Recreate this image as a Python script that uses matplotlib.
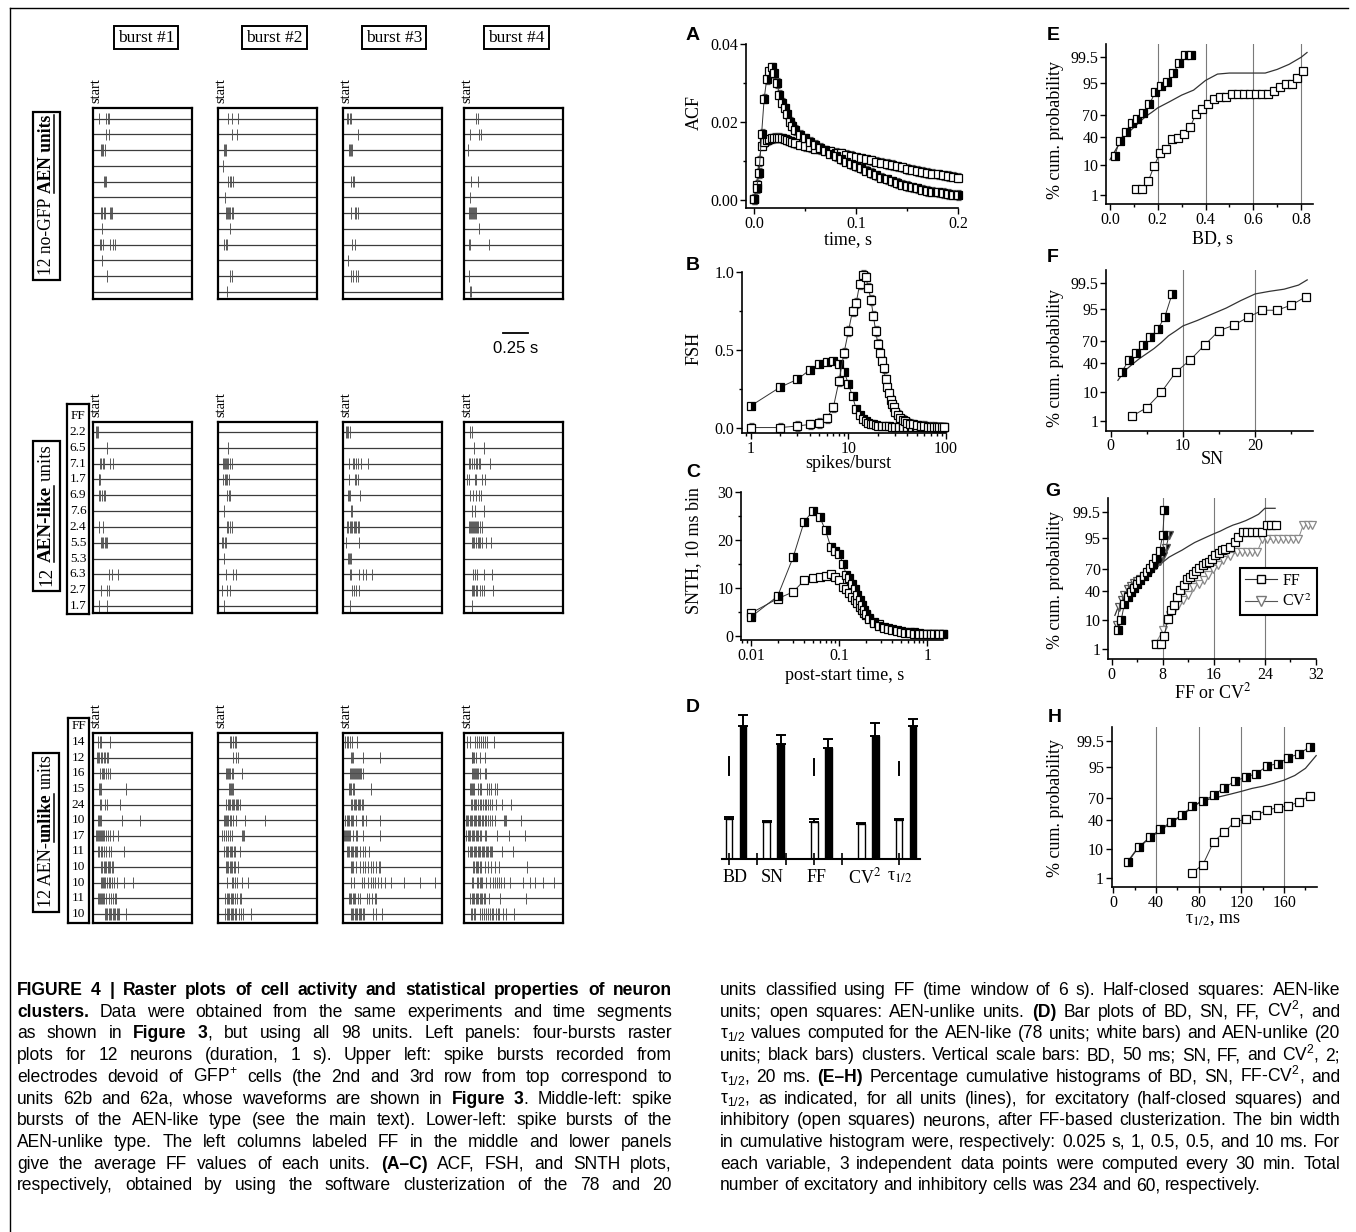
import re
from statistics import NormalDist

import numpy as np
import matplotlib
matplotlib.use('Agg')
import matplotlib.pyplot as plt
from matplotlib.lines import Line2D
from matplotlib.patches import Rectangle
from matplotlib.ticker import NullLocator

W, H = 1356, 1232
SERIF = 'Liberation Serif'
SANS = 'Liberation Sans'
plt.rcParams['font.family'] = SERIF
plt.rcParams['mathtext.fontset'] = 'custom'
plt.rcParams['mathtext.rm'] = SANS
plt.rcParams['mathtext.it'] = SANS + ':italic'
plt.rcParams['mathtext.bf'] = SANS + ':bold'

# ---------------- raster data (spike times, ms after burst start) ----------------
top_b1 = [[57, 135, 152, 165], [131, 158], [77, 91, 104, 118], [], [108, 118, 128], [],
          [81, 94, 108, 125, 168, 178, 192], [91], [67, 84, 98, 172, 199, 226], [94], [145], []]
top_b2 = [[101, 145, 205], [145, 192], [57, 67, 77], [47], [101, 118, 135, 152], [74],
          [84, 94, 104, 114, 125, 138, 155], [121], [64, 77, 94], [], [125, 138], [88]]
top_b3 = [[40, 54, 67, 81], [155], [57, 67, 77, 88], [], [81, 98, 114], [],
          [81, 118, 135, 155], [], [91, 125], [54], [77, 101, 128, 155], []]
top_b4 = [[125, 141], [57, 148, 175], [44], [], [71, 145], [57],
          [47, 57, 67, 77, 88, 98, 111, 125], [148], [54, 64, 249], [], [54], [57, 71]]

mid_b1 = [[30, 40, 50], [142], [71, 85, 98, 112, 173, 207], [58, 64, 71], [58, 75, 92, 108, 125], [],
          [58, 98], [78, 92, 105, 119, 132, 146], [], [166, 190, 251], [78, 139, 159], [64, 142]]
mid_b2 = [[], [102], [51, 61, 71, 81, 92, 105, 122, 146], [54, 68, 81, 95, 115], [95, 108, 122], [64],
          [92, 105, 122, 139], [41, 54, 71, 85], [64], [81, 149, 186], [44, 92, 125], [61]]
mid_b3 = [[27, 41, 54, 68], [], [61, 102, 115, 129, 153, 180, 254], [58, 119, 129, 156], [54, 64, 75, 169],
          [78, 95], [41, 54, 68, 81, 95, 108, 122, 136, 149, 163], [34, 166], [47, 58, 68, 78],
          [68, 85, 163, 203, 237, 292], [95, 112, 129, 163], [75]]
mid_b4 = [[58, 78], [102, 203], [51, 64, 78, 102, 119, 132, 149, 166, 258], [31, 51, 108, 125, 180, 214],
          [64, 92, 125, 153, 173], [85, 112, 197], [51, 64, 74, 85, 95, 105, 115, 125, 136, 146, 159, 186],
          [78, 92, 105, 119, 139, 153, 166, 180, 220, 271], [], [92, 112, 132, 203, 281],
          [78, 92, 105, 119, 132, 166, 186, 207, 295], [81]]

bot_b1 = [[51, 71, 84, 172], [44, 54, 64, 78, 91, 108, 125, 142, 155], [74, 88, 101, 115, 132, 149, 172],
          [64, 74, 81, 334], [68, 84, 125, 142, 270], [54, 64, 74, 84, 294, 473],
          [27, 37, 47, 57, 68, 78, 88, 98, 112, 132, 149, 172, 206, 250],
          [51, 64, 78, 91, 108, 135, 162, 182, 314], [81, 95, 108, 122, 135, 149, 162, 176, 189, 203],
          [78, 88, 98, 108, 125, 142, 159, 176, 193, 216, 240, 311, 399],
          [51, 61, 71, 81, 91, 101, 115, 128, 166, 182, 199, 220, 233],
          [118, 132, 145, 159, 172, 186, 199, 213, 226, 240, 253, 267, 334]]
bot_b2 = [[118, 135, 152, 169, 179], [155, 179, 203], [85, 95, 105, 115, 125, 139, 155, 247],
          [112, 122, 132, 142, 152], [85, 98, 112, 125, 139, 152, 166, 179, 193, 206, 220],
          [64, 74, 85, 95, 105, 118, 135, 152, 186, 270, 473], [44, 57, 85, 101, 118, 145, 240, 254, 267],
          [64, 78, 91, 105, 118, 132, 145, 159, 172, 223], [78, 91, 105, 118, 132, 145, 159, 172, 199],
          [95, 139, 155, 172, 196, 247, 304], [74, 88, 101, 115, 128, 142, 155, 169, 196, 220, 237],
          [74, 88, 101, 115, 128, 142, 155, 169, 183, 210, 237, 254, 338]]
bot_b3 = [[17, 37, 51, 71, 91, 139], [78, 88, 98, 199, 375],
          [71, 81, 91, 101, 112, 122, 132, 142, 152, 162, 172, 183, 199], [64, 74, 85, 98, 112, 281],
          [81, 95, 108, 122, 135, 149, 162, 176, 189, 203], [24, 37, 51, 64, 78, 91, 105, 132, 193, 203, 233, 375],
          [3, 14, 24, 34, 44, 54, 64, 74, 98, 128, 145, 206, 375],
          [37, 51, 64, 78, 91, 105, 118, 132, 145, 172, 199, 226, 267],
          [78, 91, 105, 132, 172, 199, 226, 254, 281, 308, 335, 362, 375],
          [78, 115, 193, 216, 250, 284, 301, 321, 352, 379, 429, 480, 619, 774, 929],
          [64, 74, 85, 98, 112, 125, 149, 172, 240, 267, 294, 321, 335],
          [78, 91, 105, 118, 132, 145, 159, 172, 186, 199, 213, 308, 335, 389]]
bot_b4 = [[30, 57, 112, 132, 152, 172, 193, 213, 233, 301], [78, 85, 91, 105, 125, 166, 210],
          [85, 95, 105, 115, 125, 135, 145, 159, 210, 226],
          [57, 68, 78, 88, 98, 145, 159, 172, 233, 254, 274, 314, 335],
          [71, 85, 98, 112, 125, 142, 159, 176, 193, 210, 226, 243, 260, 281, 328, 382, 470],
          [17, 30, 44, 57, 71, 85, 98, 112, 125, 139, 152, 166, 179, 193, 210, 226, 243, 267, 287, 314,
           402, 416, 429, 571],
          [24, 37, 51, 64, 78, 91, 105, 118, 132, 145, 159, 172, 213, 226, 335, 456, 612],
          [44, 57, 71, 85, 98, 112, 125, 139, 152, 166, 179, 193, 206, 220, 233, 247, 260, 274, 287, 382, 490],
          [91, 105, 118, 132, 145, 159, 176, 210, 243, 277, 311, 355, 632],
          [78, 91, 132, 145, 159, 172, 186, 226, 267, 294, 311, 335, 355, 375, 402, 463, 592, 666, 713, 801, 909],
          [64, 78, 91, 105, 118, 132, 145, 159, 172, 186, 199, 213, 257, 362, 625],
          [71, 85, 98, 112, 159, 179, 199, 220, 240, 260, 281, 294, 328, 341, 355, 395, 429, 504]]

ff_like = ['2.2', '6.5', '7.1', '1.7', '6.9', '7.6', '2.4', '5.5', '5.3', '6.3', '2.7', '1.7']
ff_unlike = ['14', '12', '16', '15', '24', '10', '17', '11', '10', '10', '11', '10']
burst_titles = ['burst #1', 'burst #2', 'burst #3', 'burst #4']

# ---------------- panel A: ACF ----------------
acf_t = np.r_[np.arange(0, 0.0401, 0.0025), np.arange(0.045, 0.2001, 0.005)]
acf_like = [0.0003, 0.003, 0.007, 0.017, 0.026, 0.031, 0.033, 0.034, 0.0325, 0.030, 0.027, 0.025,
            0.0235, 0.022, 0.020, 0.019, 0.018,
            0.0168, 0.0158, 0.015, 0.0142, 0.0134, 0.0127, 0.0119, 0.0112, 0.0105, 0.0099, 0.0093, 0.0088,
            0.0082, 0.0076, 0.007, 0.0064, 0.0058, 0.0053, 0.0048, 0.0044, 0.004, 0.0036,
            0.0033, 0.003, 0.0027, 0.0024, 0.0022, 0.002, 0.0018, 0.0016, 0.0014, 0.0013]
acf_unlike = [0.0003, 0.004, 0.01, 0.014, 0.0148, 0.0153, 0.0156, 0.0158, 0.016, 0.016, 0.016, 0.0158,
              0.0156, 0.0154, 0.0151, 0.0148, 0.0146,
              0.0142, 0.0138, 0.0135, 0.0132, 0.013, 0.0128, 0.0125, 0.0122, 0.012, 0.0117,
              0.0113, 0.011, 0.0107, 0.0105, 0.0102, 0.0099, 0.0096, 0.0093, 0.009, 0.0087,
              0.0084, 0.008, 0.0078, 0.0075, 0.0072, 0.007, 0.0068, 0.0066, 0.0064, 0.0062, 0.006, 0.0058]
ACF_ERR = 0.0012

# ---------------- panel B: FSH ----------------
fsh_like_x = list(range(1, 21)) + [22, 24, 26, 28, 30, 33, 36, 40, 45, 50, 55, 60, 65, 70, 75, 80, 85, 90, 95]
fsh_like = [0.14, 0.26, 0.31, 0.37, 0.41, 0.42, 0.43, 0.41, 0.36, 0.28, 0.2, 0.12, 0.08, 0.055, 0.04,
            0.03, 0.025, 0.02, 0.016, 0.013, 0.01, 0.008, 0.007, 0.006, 0.005, 0.004, 0.004, 0.003,
            0.003, 0.002, 0.002, 0.002, 0.001, 0.001, 0.001, 0.001, 0.001, 0.001, 0.001]
fsh_unlike_x = list(range(1, 31)) + [32, 34, 36, 38, 40, 43, 46, 50, 55, 60, 65, 70, 75, 80, 85, 90, 95]
fsh_unlike = [0.0, 0.0, 0.01, 0.02, 0.03, 0.06, 0.13, 0.3, 0.48, 0.62, 0.75, 0.8, 0.92, 0.98, 0.97,
              0.9, 0.82, 0.72, 0.62, 0.54, 0.48, 0.43, 0.38, 0.31, 0.26, 0.22, 0.18, 0.15, 0.13, 0.1,
              0.08, 0.06, 0.05, 0.04, 0.03, 0.025, 0.02, 0.015, 0.01, 0.01, 0.005, 0.005, 0.003,
              0.002, 0.002, 0.001, 0.001]
FSH_ERR = 0.03

# ---------------- panel C: SNTH ----------------
snth_x = [0.01, 0.02, 0.03, 0.04, 0.05, 0.06, 0.07, 0.08, 0.09, 0.10, 0.11, 0.12, 0.13, 0.14, 0.15,
          0.16, 0.17, 0.18, 0.19, 0.20, 0.22, 0.25, 0.28, 0.32, 0.36, 0.4, 0.45, 0.5, 0.56, 0.63,
          0.7, 0.8, 0.9, 1.0, 1.1, 1.2, 1.35, 1.5]
snth_like = [4.0, 8.3, 16.4, 23.8, 26.0, 24.8, 22.0, 18.6, 17.8, 17.2, 15.1, 12.8, 12.0, 10.8, 9.9,
             8.6, 7.5, 6.4, 5.5, 4.7, 3.6, 2.8, 2.2, 1.8, 1.5, 1.3, 1.0, 0.9, 0.7, 0.6,
             0.5, 0.5, 0.4, 0.4, 0.4, 0.4, 0.4, 0.4]
snth_unlike = [4.8, 7.8, 9.2, 11.6, 12.0, 12.3, 12.5, 13.0, 12.3, 11.6, 10.3, 9.9, 9.0, 8.2, 7.5,
               6.8, 6.0, 5.4, 4.9, 4.4, 3.8, 3.0, 2.5, 2.0, 1.7, 1.5, 1.2, 1.1, 0.9, 0.8,
               0.8, 0.6, 0.5, 0.5, 0.4, 0.4, 0.4, 0.4]

# ---------------- panel D: bars ----------------
d_labels = ['BD', 'SN', 'FF', 'CV$^2$', 'τ$_{1/2}$']
d_like = [109, 4.7, 4.7, 4.4, 62]
d_like_err = [7, 0.2, 0.34, 0.2, 1.6]
d_unlike = [363, 14.6, 14.1, 15.7, 209]
d_unlike_err = [30, 1.15, 1.15, 1.57, 12]
d_scale = [50, 2, 2, 2, 20]          # vertical scale bar value for each variable
D_SCALE_LEN = [18.3, 15.7, 15.7, 15.7, 12.7]
D_SCALE_AT = [0, 2, 4]
D_POS = [0, 0.80, 1.81, 2.81, 3.61]
D_LABEL_POS = [-0.03, 0.76, 1.72, 2.74, 3.48]
D_TICKS = [-0.155, 0.44, 1.06, 1.65, 2.25, 3.46]

# ---------------- panels E-H: cumulative probability (%) ----------------
e_like_x = [0.02, 0.04, 0.065, 0.09, 0.115, 0.14, 0.165, 0.19, 0.215, 0.24, 0.265, 0.29, 0.315, 0.34]
e_like = [17.5, 34, 46.5, 59, 65, 72.6, 81.6, 91, 94, 95.6, 97.8, 99.1, 99.6, 99.6]
e_unlike_x = [0.11, 0.135, 0.16, 0.185, 0.21, 0.235, 0.26, 0.285, 0.31, 0.335, 0.36, 0.385, 0.41, 0.435,
              0.46, 0.485, 0.51, 0.535, 0.56, 0.585, 0.61, 0.635, 0.66, 0.685, 0.71, 0.735, 0.76, 0.785, 0.81]
e_unlike = [1.65, 1.65, 3.2, 9.8, 19.9, 24.4, 36.4, 38.6, 43.3, 53, 71, 76.5, 81.6, 86.4, 87.9, 87.9,
            89.8, 89.8, 89.8, 89.8, 89.8, 89.8, 89.8, 91.6, 93.3, 94.8, 94.8, 96.6, 98.2]
e_all_x = [0.0, 0.025, 0.05, 0.075, 0.1, 0.125, 0.15, 0.175, 0.2, 0.25, 0.3, 0.35, 0.4, 0.45, 0.5,
           0.55, 0.6, 0.65, 0.7, 0.75, 0.8, 0.825]
e_all = [14, 24, 36, 45, 53, 61, 68, 73, 78, 84, 89, 92, 96, 97.6, 97.8, 97.8, 97.8, 97.8, 98.4, 99.0,
         99.5, 99.7]

f_like_x = [1.5, 2.5, 3.5, 4.5, 5.5, 6.5, 7.5, 8.5]
f_like = [27.7, 43.8, 54, 64.7, 74.3, 82.6, 91.7, 98.6]
f_unlike_x = [3, 5, 7, 9, 11, 13, 15, 17, 19, 21, 23, 25, 27]
f_unlike = [1.6, 3.2, 9.6, 27.7, 43.8, 64.7, 81.3, 86, 91.4, 94.7, 94.7, 96.4, 98.2]
f_all_x = [1, 2, 3, 4, 5, 6, 7, 8, 9, 10, 12, 14, 16, 18, 20, 22, 24, 26, 27.2]
f_all = [19, 30, 38, 46, 53, 60, 68, 76, 81, 85.5, 89.5, 93, 95.5, 97.5, 98.6, 98.9, 99.1, 99.4, 99.65]

g_like_ff_x = [1.0, 1.5, 2.0, 2.5, 3.0, 3.5, 4.0, 4.5, 5.0, 5.5, 6.0, 6.5, 7.0, 7.5, 8.0, 8.25]
g_like_ff = [5, 10, 24, 32, 38, 44, 50, 56, 61, 66, 71, 76, 82, 88, 96, 99.6]
g_like_cv_x = [0.8, 1.2, 1.6, 2.0, 2.5, 3.0, 3.5, 4.0, 4.5, 5.0, 5.5, 6.0, 6.5, 7.0, 7.5, 8.0, 8.5, 9.0]
g_like_cv = [7, 20, 28, 35, 42, 47, 51, 54, 57, 61, 64, 67, 71, 75, 79, 84, 90, 96]
g_unlike_ff_x = [7.0, 7.75, 8.25, 8.75, 9.25, 9.75, 10.25, 10.75, 11.25, 11.75, 12.25, 12.75, 13.25,
                 13.75, 14.25, 14.75, 15.25, 15.75, 16.25, 16.75, 17.25, 17.75, 18.5, 19.25, 19.75,
                 20.5, 21.25, 22, 22.75, 23.5, 24.25, 25, 25.75]
g_unlike_ff = [1.6, 1.6, 3.1, 10.3, 17.5, 22.5, 31.6, 41, 48.8, 56.5, 59.3, 63.7, 67.7, 71.4, 75, 76.9,
               78.2, 81, 84.8, 86.7, 88.5, 89.2, 90.8, 93.4, 95.4, 96.7, 96.7, 96.7, 96.7, 96.7,
               98.2, 98.2, 98.2]
g_unlike_cv_x = [6.8, 8.1, 8.6, 9.1, 9.7, 10.4, 11.2, 12, 12.8, 13.6, 14.4, 15.1, 15.9, 16.7, 17.5,
                 18.5, 19.6, 20.4, 21.2, 22, 22.8, 23.6, 24.4, 25.2, 26, 26.8, 27.6, 28.4, 29.2,
                 30, 30.8, 31.4]
g_unlike_cv = [1.6, 5, 10, 13.6, 17.5, 22.5, 28, 34, 45, 50, 56, 63, 70, 75, 80, 84, 87,
               87.5, 87.5, 87.5, 87.5, 94.4, 94.4, 94.4, 94.4, 94.4, 94.4, 94.4, 94.4, 98.2, 98.2, 98.2]
g_all_x = [0.5, 1, 2, 3, 4, 5, 6, 7, 8, 9, 10, 11, 12, 13, 14, 15, 16, 17, 18, 19, 20, 21, 22, 23, 24, 25.6]
g_all = [13, 20, 35, 48, 56, 62, 67, 72, 78, 83, 86, 88.5, 91, 93, 94.3, 95.4, 96.3, 97, 97.7, 98.2,
         98.5, 98.8, 99.1, 99.35, 99.65, 99.65]

h_like_x = [14, 24, 34, 44, 54, 64, 74, 84, 94, 104, 114, 124, 134, 144, 154, 164, 174, 184]
h_like = [4, 11.2, 19, 27.6, 37.4, 46.7, 59.5, 66.6, 73.7, 81.8, 87.2, 90.1, 92, 95.4, 96.1, 97.6, 98.3, 99.1]
h_unlike_x = [74, 84, 94, 104, 114, 124, 134, 144, 154, 164, 174, 184]
h_unlike = [1.6, 3.2, 15, 24.7, 37.4, 41, 46.7, 53.8, 57.5, 59.8, 65.4, 72.9]
h_all_x = [11, 20, 30, 40, 50, 60, 70, 80, 90, 100, 110, 120, 130, 140, 150, 160, 170, 180, 190]
h_all = [3, 8, 15, 23, 32, 42, 53, 64, 69, 72, 75, 78, 81, 83, 85.5, 88, 91, 94.5, 98]

PROB_TICKS = [1, 10, 40, 70, 95, 99.5]
PROB_LABELS = ['1', '10', '40', '70', '95', '99.5']

# ---------------- caption ----------------
left_lines = [
    "**FIGURE 4 | Raster plots of cell activity and statistical properties of neuron**",
    "**clusters.** Data were obtained from the same experiments and time segments",
    "as shown in **Figure 3**, but using all 98 units. Left panels: four-bursts raster",
    "plots for 12 neurons (duration, 1 s). Upper left: spike bursts recorded from",
    "electrodes devoid of GFP$^{+}$ cells (the 2nd and 3rd row from top correspond to",
    "units 62b and 62a, whose waveforms are shown in **Figure 3**. Middle-left: spike",
    "bursts of the AEN-like type (see the main text). Lower-left: spike bursts of the",
    "AEN-unlike type. The left columns labeled FF in the middle and lower panels",
    "give the average FF values of each units. **(A–C)** ACF, FSH, and SNTH plots,",
    "respectively, obtained by using the software clusterization of the 78 and 20",
]
right_lines = [
    "units classified using FF (time window of 6 s). Half-closed squares: AEN-like",
    "units; open squares: AEN-unlike units. **(D)** Bar plots of BD, SN, FF, CV$^{2}$, and",
    "τ$_{1/2}$ values computed for the AEN-like (78 units; white bars) and AEN-unlike (20",
    "units; black bars) clusters. Vertical scale bars: BD, 50 ms; SN, FF, and CV$^{2}$, 2;",
    "τ$_{1/2}$, 20 ms. **(E–H)** Percentage cumulative histograms of BD, SN, FF-CV$^{2}$, and",
    "τ$_{1/2}$, as indicated, for all units (lines), for excitatory (half-closed squares) and",
    "inhibitory (open squares) neurons, after FF-based clusterization. The bin width",
    "in cumulative histogram were, respectively: 0.025 s, 1, 0.5, 0.5, and 10 ms. For",
    "each variable, 3 independent data points were computed every 30 min. Total",
    "number of excitatory and inhibitory cells was 234 and 60, respectively.",
]

fig = plt.figure(figsize=(W / 100, H / 100), dpi=100)
R = fig.canvas.get_renderer()


def fx(x):
    return x / W


def fy(y):
    return 1 - y / H


def px_axes(l, t, r, b):
    return fig.add_axes([l / W, 1 - b / H, (r - l) / W, (b - t) / H])


def text_w(s, size, bold=False, family=SERIF):
    t = fig.text(0, 0, s, fontsize=size, fontweight='bold' if bold else 'normal', family=family)
    w = t.get_window_extent(R).width
    t.remove()
    return w


def rect_px(l, t, r, b, lw=1.6):
    fig.add_artist(Rectangle((fx(l), fy(b)), (r - l) / W, (b - t) / H, transform=fig.transFigure,
                             fill=False, lw=lw, ec='black'))


def rot_label(xb, ybot, parts, target):
    # vertical label built from pieces (text, bold, space before); bold pieces underlined
    def layout(size):
        space = text_w('a a', size) - text_w('aa', size)
        y, arts = ybot, []
        for i, (txt, bold, gap) in enumerate(parts):
            if i > 0 and gap:
                y -= space
            t = fig.text(fx(xb), fy(y), txt, rotation=90, rotation_mode='anchor', ha='left',
                         va='baseline', fontsize=size, fontweight='bold' if bold else 'normal')
            h = t.get_window_extent(R).height
            arts.append(t)
            if bold:
                ln = Line2D([fx(xb + 2.5)] * 2, [fy(y), fy(y - h)], color='black', lw=1.1)
                fig.add_artist(ln)
                arts.append(ln)
            y -= h
        return ybot - y, arts

    length, arts = layout(13)
    for a in arts:
        a.remove()
    layout(13 * target / length)


# ---------------- raster panels ----------------
RASTER_X = [(93, 192), (218, 317), (343, 442), (464, 563)]
groups = [
    dict(box=(108, 299), row0=118.7, step=15.73, spikes=[top_b1, top_b2, top_b3, top_b4], ff=None,
         ffbox=None, lbox=(33, 60, 112, 280),
         label=[('12 no-GFP', False, True), ('AEN units', True, True)], llen=160),
    dict(box=(422, 613), row0=432, step=15.82, spikes=[mid_b1, mid_b2, mid_b3, mid_b4], ff=ff_like,
         ffbox=(67, 404, 89, 614), lbox=(33, 60, 441, 591),
         label=[('12', False, True), ('AEN-like', True, True), ('units', False, True)], llen=141),
    dict(box=(733, 923), row0=742, step=15.64, spikes=[bot_b1, bot_b2, bot_b3, bot_b4], ff=ff_unlike,
         ffbox=(68, 718, 89, 923), lbox=(33, 59, 753, 912),
         label=[('12 AEN-', False, True), ('unlike', True, False), ('units', False, True)], llen=153),
]

for gi, g in enumerate(groups):
    top, bot = g['box']
    ylim = ((bot - g['row0']) / g['step'], (top - g['row0']) / g['step'])
    for bi, (x0, x1) in enumerate(RASTER_X):
        ax = px_axes(x0, top, x1, bot)
        ax.hlines(range(12), 0, 1000, color='#3c3c3c', lw=0.9)
        for k, row in enumerate(g['spikes'][bi]):
            ax.vlines(row, k - 0.36, k + 0.36, color='#505050', lw=0.65)
        ax.set_xlim(0, 1000)
        ax.set_ylim(*ylim)
        ax.set_xticks([])
        ax.set_yticks([])
        for s in ax.spines.values():
            s.set_linewidth(1.6)
        fig.text(fx(x0 + 6.5), fy(top - 5), 'start', rotation=90, rotation_mode='anchor',
                 ha='left', va='baseline', fontsize=10.5)
        if gi == 0 and bi == 3:
            ax.plot([394, 644], [13.62, 13.62], color='black', lw=1.3, clip_on=False)
            ax.text(519, 14.6, '0.25 s', family=SANS, fontsize=12, ha='center', va='center')
    if g['ff'] is not None:
        l, t, r, b = g['ffbox']
        fa = px_axes(l, t, r, b)
        fa.set_ylim((b - g['row0']) / g['step'], (t - g['row0']) / g['step'])
        fa.set_xticks([])
        fa.set_yticks([])
        for s in fa.spines.values():
            s.set_linewidth(1.6)
        tr = fa.get_yaxis_transform()
        fa.text(0.5, -1, 'FF', transform=tr, ha='center', va='center', fontsize=9.5)
        for k, v in enumerate(g['ff']):
            fa.text(0.5, k, v, transform=tr, ha='center', va='center', fontsize=9.5)
    l, r, t, b = g['lbox']
    rect_px(l, t, r, b)
    rot_label(51, b - 5, g['label'], g['llen'])

for title, cx in zip(burst_titles, [146, 274.5, 394, 516.5]):
    fig.text(fx(cx), fy(37.5), title, ha='center', va='center', fontsize=12.5,
             bbox=dict(boxstyle='square,pad=0.22', fc='white', ec='black', lw=1.4))

# ---------------- common styles for A-H ----------------
HALF = dict(marker='s', fillstyle='right', mfc='black', mfcalt='white', mec='black', mew=0.9)
OPEN = dict(marker='s', mfc='white', mec='black', mew=0.9)


def style_ax(ax):
    for s in ('top', 'right'):
        ax.spines[s].set_visible(False)
    for s in ('left', 'bottom'):
        ax.spines[s].set_linewidth(1.2)
    ax.tick_params(which='both', direction='out', labelsize=11.5, width=1.0, pad=1.5)
    ax.tick_params(which='major', length=4)
    ax.tick_params(which='minor', length=2.5)
    ax.patch.set_alpha(0)
    for lab in ax.get_xticklabels() + ax.get_yticklabels():
        lab.set_family(SERIF)


def flabel(x, y, s, rot=0, size=13):
    t = fig.text(fx(x), fy(y), s, rotation=rot, ha='center', va='center', fontsize=size)
    t.set_math_fontfamily('stix')
    return t


# A
ax = px_axes(746, 44, 958, 208)
ax.errorbar(acf_t, acf_unlike, yerr=ACF_ERR, color='#333', lw=0.7, ms=5.8, capsize=1.8,
            elinewidth=0.5, ecolor='#555', clip_on=False, **OPEN)
ax.errorbar(acf_t, acf_like, yerr=ACF_ERR, color='#333', lw=0.7, ms=5.8, capsize=1.8,
            elinewidth=0.5, ecolor='#555', clip_on=False, **HALF)
ax.set_xlim(-0.0078, 0.2)
ax.set_ylim(-0.002, 0.04)
ax.set_xticks([0, 0.1, 0.2], ['0.0', '0.1', '0.2'])
ax.set_xticks([0.05, 0.15], minor=True)
ax.set_yticks([0, 0.02, 0.04], ['0.00', '0.02', '0.04'])
ax.set_yticks([0.01, 0.03], minor=True)
style_ax(ax)
flabel(694, 112, 'ACF', 90)
flabel(848, 240, 'time, s')

# B
ax = px_axes(742, 272, 946, 433)
ax.set_xscale('log')
ax.errorbar(fsh_unlike_x, fsh_unlike, yerr=FSH_ERR, color='#333', lw=0.7, ms=6.3, capsize=1.8,
            elinewidth=0.5, ecolor='#555', clip_on=False, **OPEN)
ax.plot(fsh_like_x, fsh_like, color='#333', lw=0.7, ms=6.3, clip_on=False, **HALF)
ax.set_xlim(0.81, 98)
ax.set_ylim(-0.035, 1.0)
ax.set_xticks([1, 10, 100], ['1', '10', '100'])
ax.set_yticks([0, 0.5, 1.0], ['0.0', '0.5', '1.0'])
ax.set_yticks([0.25, 0.75], minor=True)
style_ax(ax)
flabel(694, 348, 'FSH', 90)
flabel(848, 463, 'spikes/burst')

# C
ax = px_axes(741, 492, 943, 640)
ax.set_xscale('log')
ax.plot(snth_x, snth_unlike, color='#333', lw=0.7, ms=5.8, clip_on=False, **OPEN)
ax.plot(snth_x, snth_like, color='#333', lw=0.7, ms=5.8, clip_on=False, **HALF)
ax.set_xlim(0.0077, 1.5)
ax.set_ylim(-0.8, 30)
ax.set_xticks([0.01, 0.1, 1], ['0.01', '0.1', '1'])
ax.set_yticks([0, 10, 20, 30], ['0', '10', '20', '30'])
ax.set_yticks([5, 15, 25], minor=True)
style_ax(ax)
flabel(694, 551, 'SNTH, 10 ms bin', 90)
flabel(845, 675, 'post-start time, s')

# D
ax = px_axes(722, 709, 920, 859)
ax.patch.set_alpha(0)
gain = [ln / s for ln, s in zip(D_SCALE_LEN, d_scale)]
pos = np.array(D_POS)
ax.bar(pos - 0.149, [v * g for v, g in zip(d_like, gain)], width=0.14, color='white',
       edgecolor='black', lw=1.0,
       yerr=[np.zeros(5), [e * g for e, g in zip(d_like_err, gain)]],
       error_kw=dict(capsize=3.5, elinewidth=1.4, capthick=1.4, ecolor='black'))
ax.bar(pos + 0.149, [v * g for v, g in zip(d_unlike, gain)], width=0.14, color='black',
       edgecolor='black', lw=1.0,
       yerr=[np.zeros(5), [e * g for e, g in zip(d_unlike_err, gain)]],
       error_kw=dict(capsize=3.5, elinewidth=1.4, capthick=1.4, ecolor='black'))
for i in D_SCALE_AT:
    ax.plot([pos[i] - 0.149] * 2, [84, 84 + D_SCALE_LEN[i]], color='black', lw=1.4)
ax.set_xlim(-0.30, 3.91)
ax.set_ylim(0, 150)
for s in ('top', 'right', 'left'):
    ax.spines[s].set_visible(False)
ax.spines['bottom'].set_linewidth(1.5)
ax.set_yticks([])
ax.set_xticks(D_TICKS, [''] * len(D_TICKS))
ax.tick_params(axis='x', direction='inout', length=8, width=1.2)
for p, lab in zip(D_LABEL_POS, d_labels):
    t = ax.text(p, -18, lab, ha='center', va='center', fontsize=13, clip_on=False)
    t.set_math_fontfamily('stix')

# E-H
_nd = NormalDist()
_ppf = np.vectorize(_nd.inv_cdf, otypes=[float])
_cdf = np.vectorize(_nd.cdf, otypes=[float])


def prob_fwd(p):
    p = np.clip(np.asarray(p, dtype=float) / 100.0, 1e-9, 1 - 1e-9)
    return _ppf(p)


def prob_inv(z):
    return _cdf(np.asarray(z, dtype=float)) * 100.0


def prob_panel(box, grid):
    ax = px_axes(*box)
    ax.set_yscale('function', functions=(prob_fwd, prob_inv))
    for gx in grid:
        ax.axvline(gx, color='#7a7a7a', lw=0.8, zorder=0)
    return ax


def finish_prob(ax, xlim, ylim, xticks, xlabels, xminor):
    ax.set_xlim(*xlim)
    ax.set_ylim(*ylim)
    ax.set_yticks(PROB_TICKS, PROB_LABELS)
    ax.yaxis.set_minor_locator(NullLocator())
    ax.set_xticks(xticks, xlabels)
    ax.set_xticks(xminor, minor=True)
    style_ax(ax)


MS = 5.6
# E
ax = prob_panel((1106, 44, 1313, 204), [0.2, 0.4, 0.6, 0.8])
ax.plot(e_all_x, e_all, color='#333', lw=0.9)
ax.plot(e_unlike_x, e_unlike, color='#333', lw=0.7, ms=MS, clip_on=False, **OPEN)
ax.plot(e_like_x, e_like, color='#333', lw=0.7, ms=MS, clip_on=False, **HALF)
finish_prob(ax, (-0.0168, 0.85), (0.39, 99.886), [0, 0.2, 0.4, 0.6, 0.8],
            ['0.0', '0.2', '0.4', '0.6', '0.8'], [0.1, 0.3, 0.5, 0.7])
flabel(1055, 130, '% cum. probability', 90)
flabel(1212, 239, 'BD, s')

# F
ax = prob_panel((1106, 270, 1313, 430.7), [10, 20])
ax.plot(f_all_x, f_all, color='#333', lw=0.9)
ax.plot(f_unlike_x, f_unlike, color='#333', lw=0.7, ms=MS, clip_on=False, **OPEN)
ax.plot(f_like_x, f_like, color='#333', lw=0.7, ms=MS, clip_on=False, **HALF)
finish_prob(ax, (-0.65, 28.0), (0.378, 99.885), [0, 10, 20], ['0', '10', '20'], [5, 15, 25])
flabel(1055, 358, '% cum. probability', 90)
flabel(1212, 460, 'SN')

# G
ax = prob_panel((1108.3, 498, 1316, 659.3), [8, 16, 24])
ax.plot(g_all_x, g_all, color='#333', lw=0.9)
ax.plot(g_unlike_cv_x, g_unlike_cv, color='#888', lw=0.7, marker='v', ms=MS + 0.4, mfc='white',
        mec='#888', mew=0.9, clip_on=False)
ax.plot(g_unlike_ff_x, g_unlike_ff, color='#333', lw=0.7, ms=MS, clip_on=False, **OPEN)
ax.plot(g_like_cv_x, g_like_cv, color='#333', lw=0.7, marker='v', ms=MS + 0.4, fillstyle='right',
        mfc='black', mfcalt='white', mec='#555', mew=0.9, clip_on=False)
ax.plot(g_like_ff_x, g_like_ff, color='#333', lw=0.7, ms=MS, clip_on=False, **HALF)
finish_prob(ax, (-0.53, 32), (0.353, 99.891), [0, 8, 16, 24, 32], ['0', '8', '16', '24', '32'],
            [4, 12, 20, 28])
handles = [Line2D([], [], color='#333', lw=0.8, marker='s', ms=6, mfc='white', mec='black'),
           Line2D([], [], color='#555', lw=0.8, marker='v', ms=6.5, mfc='white', mec='#777')]
leg = ax.legend(handles, ['FF', 'CV$^2$'], loc='upper right', bbox_to_anchor=(1.005, 0.566),
                fancybox=False, edgecolor='black', fontsize=11.5, handlelength=2.0, borderpad=0.3,
                labelspacing=0.3, handletextpad=0.35, borderaxespad=0, framealpha=1)
leg.get_frame().set_linewidth(1.5)
for t in leg.get_texts():
    t.set_math_fontfamily('stix')
flabel(1056, 580, '% cum. probability', 90)
flabel(1213, 692, 'FF or CV$^2$')

# H
ax = prob_panel((1111.7, 726.7, 1316.7, 887.3), [40, 80, 120, 160])
ax.plot(h_all_x, h_all, color='#333', lw=0.9)
ax.plot(h_unlike_x, h_unlike, color='#333', lw=0.7, ms=MS, clip_on=False, **OPEN)
ax.plot(h_like_x, h_like, color='#333', lw=0.7, ms=MS, clip_on=False, **HALF)
finish_prob(ax, (-1.5, 190.5), (0.38, 99.9), [0, 40, 80, 120, 160], ['0', '40', '80', '120', '160'],
            [20, 60, 100, 140, 180])
flabel(1056, 808, '% cum. probability', 90)
flabel(1213, 919, 'τ$_{1/2}$, ms')

# panel letters
for letter, x, y in [('A', 693, 35), ('B', 693, 265), ('C', 693, 472), ('D', 693, 707),
                     ('E', 1053, 35), ('F', 1053, 258), ('G', 1053, 492), ('H', 1055, 718)]:
    fig.text(fx(x), fy(y), letter, family=SANS, fontweight='bold', fontsize=14, ha='center', va='center')

# frame lines
fig.add_artist(Line2D([fx(10), fx(10)], [fy(8), fy(1232)], color='black', lw=1.0))
fig.add_artist(Line2D([fx(10), fx(1348)], [fy(8), fy(8)], color='black', lw=1.0))


# ---------------- caption (justified) ----------------
def word_pieces(line):
    words, cur, bold = [], [], False
    for tok in re.split(r'(\*\*)', line):
        if tok == '**':
            bold = not bold
            continue
        bits = tok.split(' ')
        for i, b in enumerate(bits):
            if i > 0:
                if cur:
                    words.append(cur)
                cur = []
            if b:
                cur.append((b, bold))
    if cur:
        words.append(cur)
    return words


def line_natural(line, size):
    space = text_w('a a', size, family=SANS) - text_w('aa', size, family=SANS)
    words = word_pieces(line)
    w = sum(text_w(txt, size, bold, SANS) for wd in words for txt, bold in wd)
    return w + space * (len(words) - 1)


def caption_block(lines, x0, x1, y0, step, size, ragged_last):
    space = text_w('a a', size, family=SANS) - text_w('aa', size, family=SANS)
    for i, line in enumerate(lines):
        arts = []
        for w in word_pieces(line):
            wa = []
            for txt, bold in w:
                t = fig.text(0, 0, txt, fontsize=size, family=SANS,
                             fontweight='bold' if bold else 'normal', va='baseline', ha='left')
                wa.append((t, t.get_window_extent(R).width))
            arts.append(wa)
        wsum = sum(wd for wa in arts for _, wd in wa)
        if (ragged_last and i == len(lines) - 1) or len(arts) < 2:
            gap = space
        else:
            gap = (x1 - x0 - wsum) / (len(arts) - 1)
        x, y = x0, y0 + i * step
        for wa in arts:
            for t, wd in wa:
                t.set_position((fx(x), fy(y)))
                x += wd
            x += gap


LEFT_COL = (17, 672)
RIGHT_COL = (720, 1340)
size0 = 13.4
fit = min([(LEFT_COL[1] - LEFT_COL[0]) / line_natural(s, size0) for s in left_lines] +
          [(RIGHT_COL[1] - RIGHT_COL[0]) / line_natural(s, size0) for s in right_lines[:-1]])
cap_size = size0 * min(1.0, 0.99 * fit)
caption_block(left_lines, LEFT_COL[0], LEFT_COL[1], 995, 21.7, cap_size, False)
caption_block(right_lines, RIGHT_COL[0], RIGHT_COL[1], 995, 21.7, cap_size, True)

fig.savefig('out.png', dpi=100)
